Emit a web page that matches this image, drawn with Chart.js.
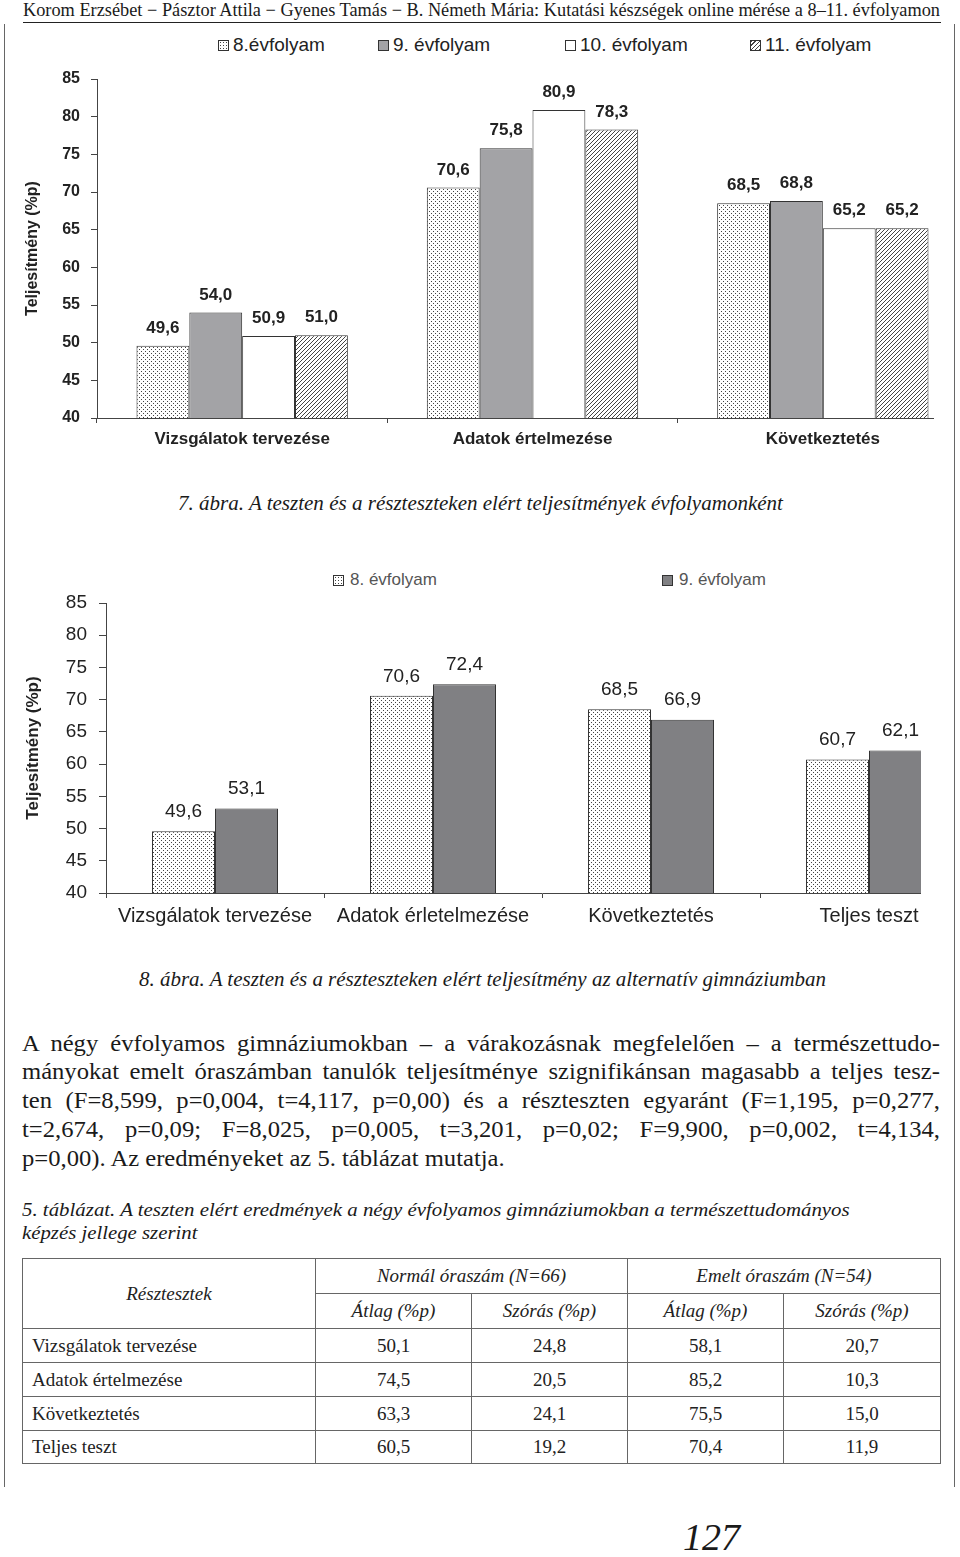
<!DOCTYPE html>
<html>
<head>
<meta charset="utf-8">
<script src="https://cdn.jsdelivr.net/npm/chart.js@4.4.0/dist/chart.umd.min.js"></script>
<style>
  body { margin:0; background:#fff; width:960px; height:1557px; position:relative; overflow:hidden; font-family:"Liberation Serif", serif; color:#1a1a1a; }
  .abs { position:absolute; }
  .fit { white-space:nowrap; display:inline-block; transform-origin:0 50%; }
  .vline { position:absolute; width:1px; background:#666; top:24px; height:1463px; }
  .chartbox { position:absolute; overflow:hidden; }
  .leg { position:absolute; font-family:"Liberation Sans", Arial, sans-serif; white-space:nowrap; display:flex; align-items:center; }
  .sw { width:9px; height:9px; border:1px solid #333; margin-right:4px; box-sizing:content-box; }
  .para { position:absolute; left:22px; font-size:24px; line-height:28px; white-space:nowrap; transform-origin:0 50%; }
  .just { text-align:justify; text-align-last:justify; }
  table { border-collapse:collapse; font-size:19px; table-layout:fixed; }
  td { border:1px solid #666; padding:0; text-align:center; color:#222; }
  td.nm { text-align:left; padding-left:9px; }
  td.hd { font-style:italic; }
</style>
</head>
<body>
<div class="vline" style="left:4px"></div>
<div class="vline" style="left:954px"></div>

<div class="abs" style="left:23px;top:0px;height:20px;font-size:18px;line-height:20px;"><span class="fit" data-w="917">Korom Erzsébet − Pásztor Attila − Gyenes Tamás − B. Németh Mária: Kutatási készségek online mérése a 8–11. évfolyamon</span></div>
<div class="abs" style="left:23px;top:22px;width:918px;height:1px;background:#222"></div>

<div id="leg1"></div>
<div class="chartbox" style="left:0;top:50px;width:934px;height:410px"><canvas id="c1" width="970" height="408"></canvas></div>

<div class="abs" style="left:178px;top:491px;font-size:21px;line-height:24px;font-style:italic"><span class="fit" data-w="605">7. ábra. A teszten és a részteszteken elért teljesítmények évfolyamonként</span></div>

<div id="leg2"></div>
<div class="chartbox" style="left:0;top:575px;width:921px;height:360px"><canvas id="c2" width="980" height="358"></canvas></div>

<div class="abs" style="left:139px;top:967px;font-size:21px;line-height:24px;font-style:italic"><span class="fit" data-w="687">8. ábra. A teszten és a részteszteken elért teljesítmény az alternatív gimnáziumban</span></div>

<div class="para just" style="top:1029px">A négy évfolyamos gimnáziumokban – a várakozásnak megfelelően – a természettudo-</div>
<div class="para just" style="top:1057px">mányokat emelt óraszámban tanulók teljesítménye szignifikánsan magasabb a teljes tesz-</div>
<div class="para just" style="top:1086px">ten (F=8,599, p=0,004, t=4,117, p=0,00) és a részteszten egyaránt (F=1,195, p=0,277,</div>
<div class="para just" style="top:1115px">t=2,674, p=0,09; F=8,025, p=0,005, t=3,201, p=0,02; F=9,900, p=0,002, t=4,134,</div>
<div class="para" id="lastLine" style="top:1144px">p=0,00). Az eredményeket az 5. táblázat mutatja.</div>

<div class="abs" style="left:22px;top:1199px;font-size:19px;line-height:22px;font-style:italic"><span class="fit" data-w="828">5. táblázat. A teszten elért eredmények a négy évfolyamos gimnáziumokban a természettudományos</span></div>
<div class="abs" style="left:22px;top:1222px;font-size:19px;line-height:22px;font-style:italic"><span class="fit" data-w="175">képzés jellege szerint</span></div>

<table id="tbl" class="abs" style="left:22px;top:1258px;width:919px"></table>

<div class="abs" style="left:683px;top:1516px;font-size:38px;line-height:42px;font-style:italic">127</div>

<script>
// 7. ábra
const cats1 = ['Vizsgálatok tervezése', 'Adatok értelmezése', 'Következtetés'];
const names1 = ['8.évfolyam', '9. évfolyam', '10. évfolyam', '11. évfolyam'];
const ev8a = [49.6, 70.6, 68.5];
const ev9a = [54.0, 75.8, 68.8];
const ev10a = [50.9, 80.9, 65.2];
const ev11a = [51.0, 78.3, 65.2];

// 8. ábra
const cats2 = ['Vizsgálatok tervezése', 'Adatok érletelmezése', 'Következtetés', 'Teljes teszt'];
const names2 = ['8. évfolyam', '9. évfolyam'];
const ev8b = [49.6, 70.6, 68.5, 60.7];
const ev9b = [53.1, 72.4, 66.9, 62.1];

const yMin = 40, yMax = 85, yStep = 5;

// 5. táblázat
const tRows = ['Vizsgálatok tervezése', 'Adatok értelmezése', 'Következtetés', 'Teljes teszt'];
const normAtlag = ['50,1', '74,5', '63,3', '60,5'];
const normSzoras = ['24,8', '20,5', '24,1', '19,2'];
const emeltAtlag = ['58,1', '85,2', '75,5', '70,4'];
const emeltSzoras = ['20,7', '10,3', '15,0', '11,9'];

// fill patterns
function makePattern(draw) {
  const c = document.createElement('canvas');
  c.width = 4; c.height = 4;
  const g = c.getContext('2d');
  g.fillStyle = '#fff';
  g.fillRect(0, 0, 4, 4);
  g.fillStyle = '#444';
  draw(g);
  return document.createElement('canvas').getContext('2d').createPattern(c, 'repeat');
}
const dotted = makePattern(g => { g.fillRect(1, 1, 1, 1); g.fillRect(3, 3, 1, 1); });
const hatched = makePattern(g => { g.fillRect(0, 3, 1, 1); g.fillRect(1, 2, 1, 1); g.fillRect(2, 1, 1, 1); g.fillRect(3, 0, 1, 1); });

const valueLabels = {
  id: 'valueLabels',
  afterDatasetsDraw(chart, args, opts) {
    const ctx = chart.ctx;
    ctx.save();
    ctx.font = opts.font;
    ctx.fillStyle = '#222';
    ctx.textAlign = 'center';
    ctx.textBaseline = 'bottom';
    chart.data.datasets.forEach((ds, i) => {
      chart.getDatasetMeta(i).data.forEach((bar, j) => {
        ctx.fillText(ds.data[j].toFixed(1).replace('.', ','), bar.x, bar.y - opts.offset);
      });
    });
    ctx.restore();
  }
};

function makeChart(id, cats, sets, o) {
  return new Chart(document.getElementById(id), {
    type: 'bar',
    data: {
      labels: cats,
      datasets: sets.map(s => ({
        label: s.label, data: s.data, backgroundColor: s.fill,
        borderColor: '#333', borderWidth: 1, borderSkipped: false,
        categoryPercentage: o.catPct, barPercentage: 1
      }))
    },
    plugins: [valueLabels],
    options: {
      responsive: false,
      animation: false,
      layout: { padding: { top: o.padTop, right: 2, left: 0, bottom: 0 } },
      plugins: {
        legend: { display: false },
        tooltip: { enabled: false },
        valueLabels: { font: o.valFont, offset: o.valOff }
      },
      scales: {
        x: {
          offset: true,
          grid: { offset: true, drawOnChartArea: false, tickLength: 5, color: '#444' },
          border: { color: '#444' },
          ticks: { color: '#222', padding: o.xPad, font: o.xFont, maxRotation: 0, autoSkip: false },
          afterFit: s => { s.height = 40; }
        },
        y: {
          min: yMin, max: yMax,
          ticks: { stepSize: yStep, color: '#222', padding: o.yPad, font: o.yFont },
          grid: { drawOnChartArea: false, tickLength: o.tickLen, color: '#444' },
          border: { color: '#444' },
          title: { display: true, text: 'Teljesítmény (%p)', color: '#222', font: o.titleFont, padding: { top: 23, bottom: 0 } },
          afterFit: s => { s.width = o.yWidth; }
        }
      }
    }
  });
}

makeChart('c1', cats1, [
  { label: names1[0], data: ev8a, fill: dotted },
  { label: names1[1], data: ev9a, fill: '#a3a3a6' },
  { label: names1[2], data: ev10a, fill: '#ffffff' },
  { label: names1[3], data: ev11a, fill: hatched }
], {
  catPct: 0.728, padTop: 29, yWidth: 97, tickLen: 6, yPad: 11, xPad: 6,
  xFont: { family: 'Liberation Sans', size: 17, weight: 'bold' },
  yFont: { family: 'Liberation Sans', size: 16, weight: 'bold' },
  titleFont: { family: 'Liberation Sans', size: 16, weight: 'bold' },
  valFont: 'bold 17px "Liberation Sans"', valOff: 9
});

makeChart('c2', cats2, [
  { label: names2[0], data: ev8b, fill: dotted },
  { label: names2[1], data: ev9b, fill: '#808083' }
], {
  catPct: 0.578, padTop: 28, yWidth: 106, tickLen: 7, yPad: 12, xPad: 6,
  xFont: { family: 'Liberation Sans', size: 20 },
  yFont: { family: 'Liberation Sans', size: 19 },
  titleFont: { family: 'Liberation Sans', size: 17, weight: 'bold' },
  valFont: '19px "Liberation Sans"', valOff: 10
});

// legends built from the series names
const swatch1 = [
  'background:#fff radial-gradient(#444 0.8px, transparent 1px) 0 0/3px 3px',
  'background:#a3a3a6', 'background:#fff',
  'background:repeating-linear-gradient(-45deg,#444 0 1px,#fff 1px 3px)'
];
const legLeft1 = [218, 378, 565, 750];
document.getElementById('leg1').innerHTML = names1.map((n, i) =>
  `<div class="leg" style="left:${legLeft1[i]}px;top:34px;font-size:19px;color:#222"><span class="sw" style="${swatch1[i]}"></span>${n}</div>`).join('');
const swatch2 = ['background:#fff radial-gradient(#444 0.8px, transparent 1px) 0 0/3px 3px', 'background:#808083'];
const legLeft2 = [333, 662];
document.getElementById('leg2').innerHTML = names2.map((n, i) =>
  `<div class="leg" style="left:${legLeft2[i]}px;top:570px;font-size:17px;color:#555"><span class="sw" style="${swatch2[i]};margin-right:6px"></span>${n}</div>`).join('');

// table
const colW = [293, 156, 156, 156, 157];
let html = '<colgroup>' + colW.map(w => `<col style="width:${w}px">`).join('') + '</colgroup>';
html += '<tr style="height:35px"><td class="hd" rowspan="2">Résztesztek</td><td class="hd" colspan="2">Normál óraszám (N=66)</td><td class="hd" colspan="2">Emelt óraszám (N=54)</td></tr>';
html += '<tr style="height:35px"><td class="hd">Átlag (%p)</td><td class="hd">Szórás (%p)</td><td class="hd">Átlag (%p)</td><td class="hd">Szórás (%p)</td></tr>';
tRows.forEach((r, i) => {
  html += `<tr style="height:${i === 3 ? 33 : 34}px"><td class="nm">${r}</td><td>${normAtlag[i]}</td><td>${normSzoras[i]}</td><td>${emeltAtlag[i]}</td><td>${emeltSzoras[i]}</td></tr>`;
});
document.getElementById('tbl').innerHTML = html;

// squeeze condensed serif lines to their measured width
document.querySelectorAll('.fit').forEach(el => {
  el.style.transform = `scaleX(${el.dataset.w / el.scrollWidth})`;
});

// paragraph: condense glyphs like the last line, justify the others
const last = document.getElementById('lastLine');
last.style.display = 'inline-block';
const sq = 483 / last.scrollWidth;
last.style.transform = `scaleX(${sq})`;
document.querySelectorAll('.para.just').forEach(el => {
  el.style.width = (918 / sq) + 'px';
  el.style.whiteSpace = 'normal';
  el.style.transform = `scaleX(${sq})`;
});
</script>
</body>
</html>
